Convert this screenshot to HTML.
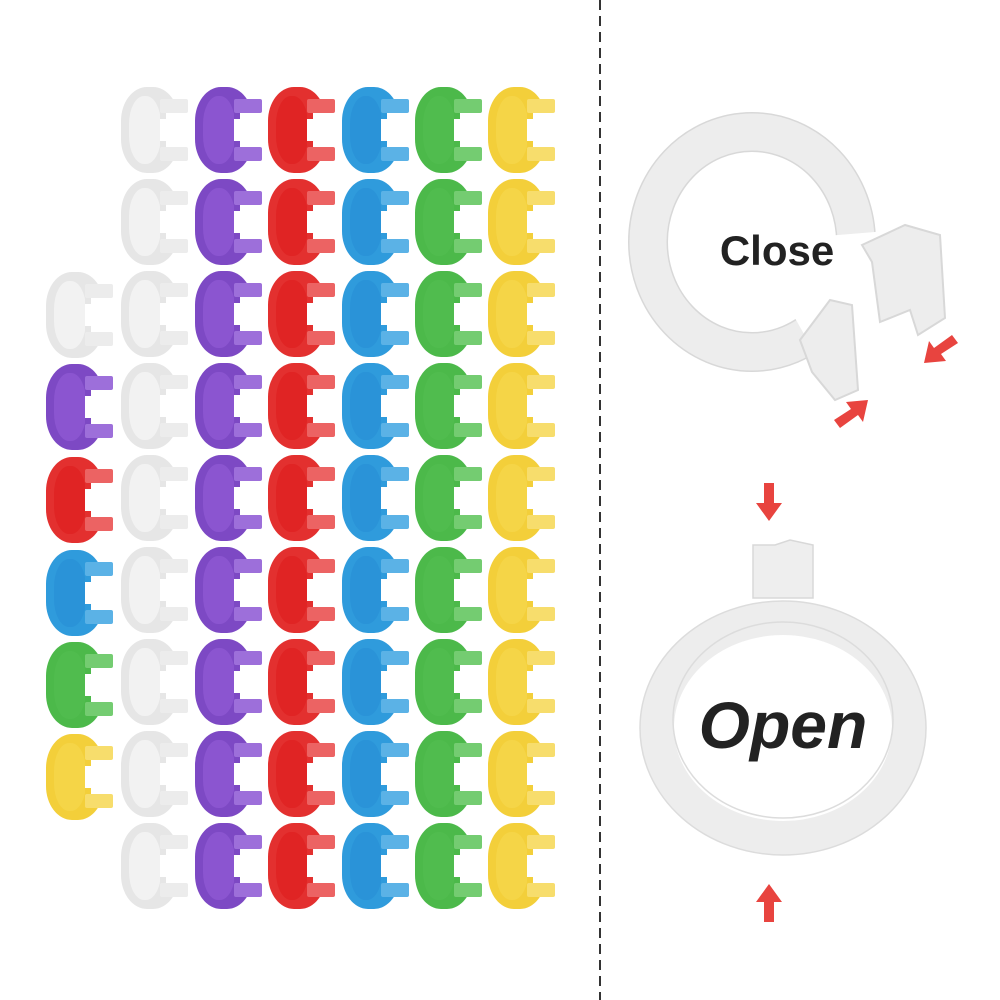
<!DOCTYPE html>
<html><head><style>body{margin:0;background:#fff}svg{display:block}</style></head><body>
<svg width="1000" height="1000" viewBox="0 0 1000 1000" xmlns="http://www.w3.org/2000/svg">
<defs>
<g id="r">
<rect x="1" y="2" width="58" height="86" rx="26" ry="34" fill="var(--c)"/>
<rect x="9" y="11" width="32" height="68" rx="15" ry="28" fill="var(--d)"/>
<rect x="40" y="28" width="32" height="34" fill="#fff"/>
<rect x="40" y="14" width="28" height="14" rx="2" fill="var(--l)"/>
<rect x="40" y="62" width="28" height="14" rx="2" fill="var(--l)"/>
<rect x="40" y="28" width="6" height="6" fill="var(--c)"/>
<rect x="40" y="56" width="6" height="6" fill="var(--c)"/>
</g>
<g id="cw" style="--c:#e6e6e6;--d:#f2f2f2;--l:#ececec"><use href="#r"/><use href="#r" y="92"/><use href="#r" y="184"/><use href="#r" y="276"/><use href="#r" y="368"/><use href="#r" y="460"/><use href="#r" y="552"/><use href="#r" y="644"/><use href="#r" y="736"/></g>
<g id="cp" style="--c:#7d49c4;--d:#8b55d0;--l:#9d6fda"><use href="#r"/><use href="#r" y="92"/><use href="#r" y="184"/><use href="#r" y="276"/><use href="#r" y="368"/><use href="#r" y="460"/><use href="#r" y="552"/><use href="#r" y="644"/><use href="#r" y="736"/></g>
<g id="ce" style="--c:#e3302f;--d:#e02424;--l:#ec6363"><use href="#r"/><use href="#r" y="92"/><use href="#r" y="184"/><use href="#r" y="276"/><use href="#r" y="368"/><use href="#r" y="460"/><use href="#r" y="552"/><use href="#r" y="644"/><use href="#r" y="736"/></g>
<g id="cb" style="--c:#2f9bdc;--d:#2a93d8;--l:#5bb2e6"><use href="#r"/><use href="#r" y="92"/><use href="#r" y="184"/><use href="#r" y="276"/><use href="#r" y="368"/><use href="#r" y="460"/><use href="#r" y="552"/><use href="#r" y="644"/><use href="#r" y="736"/></g>
<g id="cg" style="--c:#4cb94a;--d:#50bc4e;--l:#74cc71"><use href="#r"/><use href="#r" y="92"/><use href="#r" y="184"/><use href="#r" y="276"/><use href="#r" y="368"/><use href="#r" y="460"/><use href="#r" y="552"/><use href="#r" y="644"/><use href="#r" y="736"/></g>
<g id="cy" style="--c:#f3cf3a;--d:#f5d547;--l:#f7dd6c"><use href="#r"/><use href="#r" y="92"/><use href="#r" y="184"/><use href="#r" y="276"/><use href="#r" y="368"/><use href="#r" y="460"/><use href="#r" y="552"/><use href="#r" y="644"/><use href="#r" y="736"/></g>
</defs>
<use href="#r" style="--c:#e6e6e6;--d:#f2f2f2;--l:#ececec" x="45" y="270"/>
<use href="#r" style="--c:#7d49c4;--d:#8b55d0;--l:#9d6fda" x="45" y="362"/>
<use href="#r" style="--c:#e3302f;--d:#e02424;--l:#ec6363" x="45" y="455"/>
<use href="#r" style="--c:#2f9bdc;--d:#2a93d8;--l:#5bb2e6" x="45" y="548"/>
<use href="#r" style="--c:#4cb94a;--d:#50bc4e;--l:#74cc71" x="45" y="640"/>
<use href="#r" style="--c:#f3cf3a;--d:#f5d547;--l:#f7dd6c" x="45" y="732"/>
<use href="#cw" x="120" y="85"/>
<use href="#cp" x="194" y="85"/>
<use href="#ce" x="267" y="85"/>
<use href="#cb" x="341" y="85"/>
<use href="#cg" x="414" y="85"/>
<use href="#cy" x="487" y="85"/>
<line x1="600" y1="0" x2="600" y2="1000" stroke="#333" stroke-width="2" stroke-dasharray="10,6"/>
<!-- close ring -->
<ellipse cx="752" cy="242" rx="104" ry="110" fill="none" stroke="#d8d8d8" stroke-width="40"/>
<ellipse cx="752" cy="242" rx="104" ry="110" fill="none" stroke="#ededed" stroke-width="37"/>
<polygon points="752,242 900,230 900,380 830,380" fill="#fff"/>
<path d="M800,340 L830,300 L852,305 L858,390 L835,400 L812,372 Z" fill="#ededed" stroke="#d8d8d8" stroke-width="2"/>
<path d="M862,245 L905,225 L940,235 L945,318 L918,335 L910,310 L880,322 L872,262 Z" fill="#ededed" stroke="#d8d8d8" stroke-width="2"/>
<text x="777" y="265" text-anchor="middle" font-family="Liberation Sans, sans-serif" font-weight="bold" font-size="42" fill="#222">Close</text>
<!-- open ring -->
<path d="M753,545 L753,598 L813,598 L813,545 L790,540 L775,545 Z" fill="#eeeeee" stroke="#d8d8d8" stroke-width="1.5"/>
<ellipse cx="783" cy="728" rx="126" ry="110" fill="none" stroke="#ededed" stroke-width="34"/>
<ellipse cx="783" cy="728" rx="143" ry="127" fill="none" stroke="#dcdcdc" stroke-width="1.5"/>
<ellipse cx="783" cy="720" rx="110" ry="98" fill="none" stroke="#dcdcdc" stroke-width="1.5"/>
<text x="783" y="748" text-anchor="middle" font-family="Liberation Sans, sans-serif" font-style="italic" font-weight="bold" font-size="66" fill="#222">Open</text>
<!-- arrows -->
<g fill="#e8443f">
<path d="M764,483 h10 v20 h8 l-13,18 l-13,-18 h8 z"/>
<path d="M774,922 h-10 v-20 h-8 l13,-18 l13,18 h-8 z"/>
<path d="M958,343 l-6,-8 l-18,13 l-5,-7 l-5,22 l22,-2 l-5,-7 z"/>
<path d="M834,420 l6,8 l18,-13 l5,7 l5,-22 l-22,2 l5,7 z"/>
</g>
</svg>
</body></html>
